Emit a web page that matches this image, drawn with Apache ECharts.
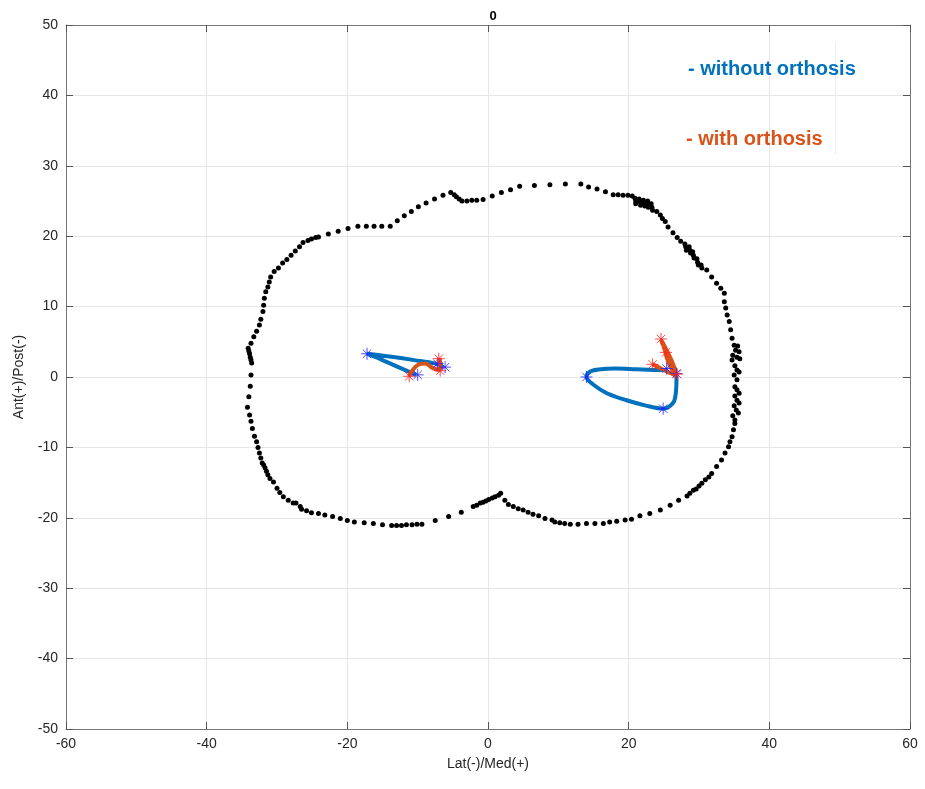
<!DOCTYPE html>
<html>
<head>
    <meta charset="utf-8">
    <title>0</title>
    <script src="https://cdn.jsdelivr.net/npm/echarts@6/dist/echarts.min.js"></script>
    <style>
        html, body { margin: 0; padding: 0; background: #fff; }
        #chart { width: 925px; height: 789px; }
    </style>
</head>
<body>
<div id="chart"></div>
<script>
    // contour points (Lat/Med, Ant/Post)
    var outline = [
        [-33.7, 0.3], [-33.6, 2.0], [-33.7, 2.4], [-33.8, 2.8], [-33.9, 3.3], [-34.0, 3.7], [-34.1, 4.1],
        [-33.7, 4.8], [-33.3, 5.7], [-32.9, 6.5], [-32.5, 7.4], [-32.3, 8.2], [-32.0, 9.3], [-31.9, 10.2],
        [-31.8, 11.2], [-31.6, 12.1], [-31.3, 12.8], [-31.1, 13.5], [-30.9, 14.2], [-30.4, 15.0], [-29.8, 15.5],
        [-29.2, 16.2], [-28.6, 16.7], [-28.0, 17.3], [-27.4, 17.9], [-26.8, 18.5], [-26.3, 19.1], [-25.6, 19.4],
        [-25.1, 19.6], [-24.5, 19.8], [-24.1, 19.9], [-22.7, 20.3], [-21.3, 20.7], [-19.9, 21.1], [-18.5, 21.4],
        [-17.3, 21.4], [-16.2, 21.4], [-15.1, 21.4], [-13.9, 21.4], [-12.9, 22.2], [-11.9, 22.9], [-10.9, 23.5],
        [-9.9, 24.2], [-8.8, 24.7], [-7.6, 25.3], [-6.4, 25.8], [-5.3, 26.2], [-4.8, 25.9], [-4.5, 25.6],
        [-4.1, 25.3], [-3.7, 25.0], [-3.0, 25.0], [-2.3, 25.1], [-1.6, 25.1], [-0.7, 25.2], [0.6, 25.7],
        [1.9, 26.2], [3.2, 26.6], [4.5, 27.1], [6.6, 27.2], [8.8, 27.3], [11.0, 27.4], [13.2, 27.4],
        [14.3, 27.0], [15.5, 26.7], [16.7, 26.3], [17.8, 25.9], [18.5, 25.9], [19.2, 25.8], [19.9, 25.8],
        [20.5, 25.7], [20.9, 25.4], [21.0, 25.0], [21.0, 24.6], [21.5, 25.3], [21.6, 24.9], [21.7, 24.4],
        [22.1, 25.1], [22.2, 24.7], [22.3, 24.3], [22.7, 25.0], [22.7, 24.6], [22.8, 24.1], [23.2, 24.6],
        [23.3, 24.1], [23.4, 23.7], [24.0, 23.5], [24.5, 23.0], [24.8, 22.5], [25.2, 22.1], [25.6, 21.3],
        [26.3, 20.5], [26.9, 19.8], [27.4, 19.3], [28.0, 18.9], [28.1, 18.5], [28.2, 18.0], [28.6, 18.5],
        [28.7, 18.0], [28.8, 17.6], [29.1, 17.8], [29.2, 17.3], [29.3, 16.9], [29.7, 16.8], [29.8, 16.3],
        [29.9, 15.9], [30.3, 15.9], [30.4, 15.5], [31.1, 15.2], [31.8, 14.2], [32.5, 13.3], [33.1, 12.6],
        [33.6, 11.9], [33.6, 10.7], [33.8, 9.8], [34.0, 8.8], [34.3, 7.9], [34.5, 6.7], [34.7, 5.5],
        [35.0, 4.5], [35.5, 4.4], [35.2, 3.8], [35.7, 3.6], [34.8, 3.1], [35.4, 2.8], [35.8, 2.6],
        [34.7, 2.4], [35.1, 1.6], [35.4, 1.0], [35.7, 0.7], [35.0, 0.3], [35.4, -0.4], [35.1, -1.4],
        [35.4, -1.8], [35.7, -2.3], [35.1, -2.7], [35.4, -3.3], [35.7, -3.7], [35.0, -4.1], [35.3, -4.7],
        [35.6, -5.1], [34.8, -5.5], [35.1, -6.1], [35.1, -6.6], [34.9, -7.5], [34.7, -8.5], [34.4, -9.2],
        [34.2, -9.9], [33.7, -10.8], [33.2, -11.8], [32.5, -12.7], [31.8, -13.7], [31.4, -14.2], [30.9, -14.6],
        [30.4, -15.1], [30.0, -15.5], [29.6, -15.9], [29.2, -16.1], [28.7, -16.5], [28.3, -16.9], [27.1, -17.5],
        [25.9, -18.2], [24.5, -18.9], [23.0, -19.4], [21.6, -19.7], [20.4, -20.2], [19.5, -20.3], [18.3, -20.5],
        [17.3, -20.6], [16.4, -20.8], [15.2, -20.8], [14.0, -20.8], [12.8, -20.9], [11.7, -20.9], [10.9, -20.8],
        [10.2, -20.7], [9.5, -20.6], [9.1, -20.3], [8.1, -20.1], [7.2, -19.7], [6.4, -19.5], [5.7, -19.2],
        [5.0, -18.9], [4.3, -18.7], [3.6, -18.4], [2.9, -18.1], [2.4, -17.5], [1.8, -16.5], [1.5, -16.8],
        [1.0, -17.0], [0.6, -17.2], [0.1, -17.4], [-0.3, -17.6], [-0.7, -17.8], [-1.1, -17.9], [-1.6, -18.2],
        [-2.1, -18.4], [-3.8, -19.2], [-5.6, -19.8], [-7.5, -20.4], [-9.4, -20.9], [-10.1, -20.9], [-10.8, -21.0],
        [-11.6, -21.0], [-12.3, -21.1], [-13.0, -21.1], [-13.7, -21.1], [-15.0, -21.0], [-16.3, -20.8], [-17.6, -20.7],
        [-19.0, -20.6], [-20.0, -20.4], [-21.0, -20.1], [-22.1, -19.8], [-23.2, -19.6], [-24.1, -19.4], [-25.1, -19.3],
        [-25.8, -19.0], [-26.5, -18.8], [-26.7, -18.4], [-27.3, -17.9], [-27.7, -17.9], [-28.4, -17.5], [-29.1, -17.0],
        [-29.6, -16.4], [-30.0, -15.8], [-30.5, -14.9], [-31.0, -14.4], [-31.3, -13.9], [-31.5, -13.4], [-31.7, -12.9],
        [-31.9, -12.5], [-32.1, -12.2], [-32.3, -11.5], [-32.5, -10.8], [-32.7, -10.0], [-32.9, -9.2], [-33.2, -8.4],
        [-33.5, -7.3], [-33.7, -6.3], [-33.9, -5.4], [-34.2, -4.3], [-34.0, -2.8], [-33.8, -1.3]
    ];

    // without orthosis
    var leftWithout = [[-10.2, 0.3], [-12.5, 1.3], [-15.0, 2.4], [-17.2, 3.3], [-14.0, 2.9], [-10.5, 2.4], [-7.5, 1.9], [-6.3, 1.3]];
    var leftWithoutStars = [[-17.2, 3.3], [-10.0, 0.3], [-7.2, 1.9], [-6.1, 1.4]];
    var rightWithout = [[25.4, 1.0], [23.5, 1.0], [21.0, 1.1], [18.0, 1.2], [16.0, 1.1], [14.6, 0.8], [14.0, 0.0],
        [15.0, -1.1], [16.9, -2.3], [19.7, -3.3], [22.6, -4.1], [24.9, -4.5], [26.3, -3.7], [26.7, -2.3],
        [26.8, 0.0], [26.2, 0.6]];
    var rightWithoutStars = [[14.0, 0.0], [24.9, -4.5], [25.4, 1.2], [26.8, 0.5]];

    // with orthosis
    var leftWith = [[-11.2, 0.1], [-10.7, 1.0], [-10.0, 1.7], [-8.9, 1.9], [-7.9, 1.3], [-7.0, 1.0], [-6.8, 1.8], [-6.9, 2.7]];
    var leftWithStars = [[-11.2, 0.1], [-7.0, 2.6], [-6.8, 0.9]];
    var rightWith = [[23.4, 1.8], [24.6, 1.2], [25.8, 0.6], [26.8, 0.2], [26.4, 1.6], [25.7, 3.2], [24.6, 5.3],
        [25.1, 4.0], [25.4, 2.8], [25.9, 1.5], [26.6, 0.4]];
    var rightWithStars = [[24.6, 5.4], [25.3, 3.5], [23.4, 1.8], [26.9, 0.4]];

    var blue = '#0072BD', orange = '#D95319';
    var star = 'path://M0,-10 L0,10 M-10,0 L10,0 M-7,-7 L7,7 M-7,7 L7,-7';
    var font = 'Liberation Sans, Arial, sans-serif';

    var chart = echarts.init(document.getElementById('chart'), null, {renderer: 'canvas'});

    function lineSeries(data, color) {
        return {
            type: 'line', data: data, smooth: 0.35, showSymbol: false, z: 3,
            lineStyle: {color: color, width: 4}
        };
    }

    function starSeries(data, color) {
        return {
            type: 'scatter', data: data, symbol: star, symbolSize: 12, z: 4,
            itemStyle: {color: 'none', borderColor: color, borderWidth: 1, opacity: 0.8}
        };
    }

    var axisText = {color: '#262626', fontSize: 14, fontFamily: font};

    var option = {
        animation: false,
        title: {
            text: '0', left: 488, top: 5, textAlign: 'center',
            textStyle: {fontSize: 13, fontWeight: 'bold', color: '#000', fontFamily: font}
        },
        grid: {left: 66, right: 15, top: 25, bottom: 60},
        xAxis: [{
            type: 'value', min: -60, max: 60, interval: 20,
            name: 'Lat(-)/Med(+)', nameLocation: 'middle', nameGap: 28,
            nameTextStyle: axisText,
            axisLine: {show: true, onZero: false, lineStyle: {color: '#777'}},
            axisTick: {show: true, inside: true, length: 7, lineStyle: {color: '#555'}},
            axisLabel: axisText,
            splitLine: {show: true, lineStyle: {color: '#e6e6e6'}}
        }, {
            type: 'value', min: -60, max: 60, interval: 20, position: 'top',
            axisLine: {show: true, onZero: false, lineStyle: {color: '#777'}},
            axisTick: {show: true, inside: true, length: 7, lineStyle: {color: '#555'}},
            axisLabel: {show: false}, splitLine: {show: false}
        }],
        yAxis: [{
            type: 'value', min: -50, max: 50, interval: 10,
            name: 'Ant(+)/Post(-)', nameLocation: 'middle', nameGap: 40,
            nameTextStyle: axisText,
            axisLine: {show: true, onZero: false, lineStyle: {color: '#777'}},
            axisTick: {show: true, inside: true, length: 7, lineStyle: {color: '#555'}},
            axisLabel: axisText,
            splitLine: {show: true, lineStyle: {color: '#e6e6e6'}}
        }, {
            type: 'value', min: -50, max: 50, interval: 10, position: 'right',
            axisLine: {show: true, onZero: false, lineStyle: {color: '#777'}},
            axisTick: {show: true, inside: true, length: 7, lineStyle: {color: '#555'}},
            axisLabel: {show: false}, splitLine: {show: false}
        }],
        graphic: [
            {type: 'line', z: 1, shape: {x1: 835.5, y1: 43, x2: 835.5, y2: 155}, style: {stroke: '#eeeeee', lineWidth: 1}},
            {type: 'text', z: 10, left: 688, top: 59, style: {text: '- without orthosis', fill: blue, fontSize: 20, fontWeight: 'bold', fontFamily: font}},
            {type: 'text', z: 10, left: 686, top: 129, style: {text: '- with orthosis', fill: orange, fontSize: 20, fontWeight: 'bold', fontFamily: font}}
        ],
        series: [
            {
                type: 'scatter', data: outline, symbol: 'circle', symbolSize: 5, z: 2,
                itemStyle: {color: '#000', opacity: 1}
            },
            lineSeries(leftWithout, blue),
            lineSeries(rightWithout, blue),
            lineSeries(leftWith, orange),
            lineSeries(rightWith, orange),
            starSeries(leftWithoutStars, '#2020ff'),
            starSeries(rightWithoutStars, '#2020ff'),
            starSeries(leftWithStars, '#ff2020'),
            starSeries(rightWithStars, '#ff2020')
        ]
    };

    chart.setOption(option);
</script>
</body>
</html>
